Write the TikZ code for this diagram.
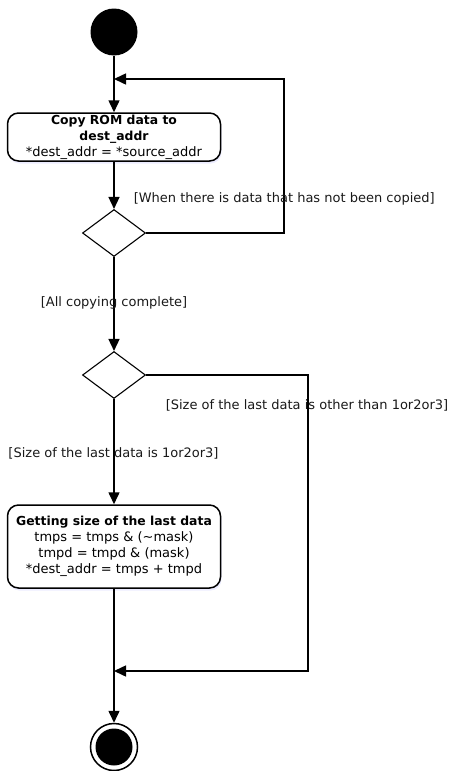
\documentclass[tikz,border=0pt]{standalone}
\usepackage{fontspec}
\setmainfont{DejaVu Sans}
\usetikzlibrary{arrows.meta,shapes.geometric,shadows}

\newcommand{\headline}[1]{{\fontsize{12.4}{16}\selectfont\bfseries #1}}

\begin{document}
\begin{tikzpicture}[x=1pt,y=-1pt,line width=1.5pt,
  act/.style ={draw,rounded corners=11pt,align=center,minimum width=213pt,inner sep=1pt,
     font=\fontsize{13}{16}\selectfont,
     drop shadow={fill=blue!15!white,draw=none,shadow xshift=1pt,shadow yshift=-2.5pt},fill=white},
  dec/.style ={draw,diamond,inner sep=0pt,minimum width=63pt,minimum height=47pt,line width=1.1pt},
  flow/.style ={-{Triangle[length=12pt,width=11pt]}},
  guard/.style ={font=\fontsize{13}{16}\selectfont,inner sep=0pt,text=black!90}]

\useasboundingbox (0,0) rectangle (452,771);

\node[circle,fill,minimum size=47pt,inner sep=0pt] (start) at (114,32) {};
\node[act,minimum height=48pt] (copy) at (114,137) {\headline{Copy ROM data to}\\\headline{dest\_addr}\\*dest\_addr = *source\_addr};
\node[dec] (D1) at (114,233) {};
\node[dec] (D2) at (114,375) {};
\node[act,minimum height=83pt] (last) at (114,546.5) {\headline{Getting size of the last data}\\tmps = tmps \& (\textasciitilde mask)\\tmpd = tmpd \& (mask)\\*dest\_addr = tmps + tmpd};
\node[circle,draw,minimum size=47pt,inner sep=0pt] (end) at (114,747) {};
\node[circle,fill,minimum size=37pt,inner sep=0pt] (endin) at (end.center) {};

\coordinate (m1) at (114,79);
\coordinate (c1) at (284,79);
\coordinate (c2) at (284,233);
\coordinate (m2) at (114,671);
\coordinate (c3) at (308,375);
\coordinate (c4) at (308,671);

\path (start) edge [flow] (copy);
\path (copy) edge [flow] (D1);
\path (D1) edge [flow] (D2);
\path (D2) edge [flow] (last);
\path (last) edge [flow] (end);

%loop back
\draw [flow] (D1.east) -- (c2) -- (c1) -- (m1);
%other size
\draw [flow] (D2.east) -- (c3) -- (c4) -- (m2);

\node[guard,anchor=west] (g1) at (133,199) {[When there is data that has not been copied]};
\node[guard] (g2) at (114,303) {[All copying complete]};
\node[guard] (g3) at (307,405) {[Size of the last data is other than 1or2or3]};
\node[guard] (g4) at (113.5,453) {[Size of the last data is 1or2or3]};
\end{tikzpicture}
\end{document}
